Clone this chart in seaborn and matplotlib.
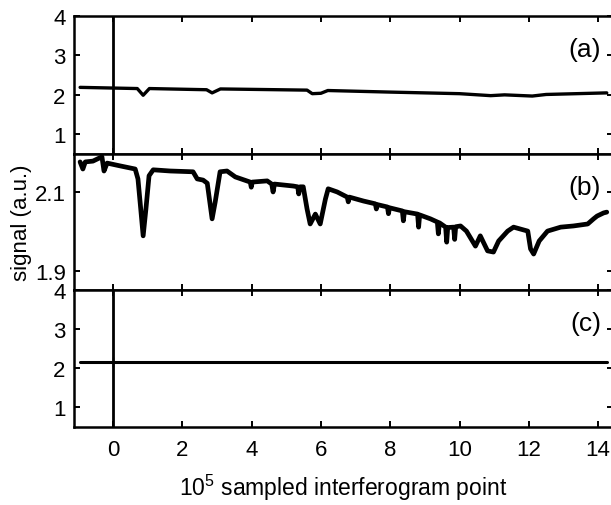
import matplotlib
matplotlib.use("Agg")
import matplotlib.pyplot as plt
import pandas as pd
import seaborn as sns

# panel (b): zoomed signal
sig_x = [-0.95, -0.87, -0.80, -0.58, -0.32, -0.26, -0.17, 0.20, 0.64, 0.72, 0.80, 0.87, 0.95, 1.04,
         1.16, 1.65, 2.31, 2.43, 2.60, 2.72, 2.86, 2.95, 3.09, 3.29, 3.53, 3.96, 3.99, 4.02, 4.45,
         4.58, 4.62, 4.66, 5.20, 5.33, 5.36, 5.40, 5.49, 5.60, 5.69, 5.84, 5.98, 6.13, 6.21, 6.47,
         6.76, 6.79, 6.82, 7.23, 7.57, 7.60, 7.63, 7.92, 7.95, 7.98, 8.35, 8.38, 8.41, 8.79, 8.82,
         8.85, 9.16, 9.36, 9.39, 9.42, 9.60, 9.63, 9.66, 9.83, 9.86, 9.89, 10.03, 10.20, 10.46,
         10.60, 10.81, 10.98, 11.13, 11.39, 11.56, 11.97, 12.05, 12.14, 12.30, 12.54, 12.92, 13.29,
         13.70, 13.87, 13.97, 14.16, 14.25]
sig_y = [2.176, 2.158, 2.176, 2.178, 2.189, 2.153, 2.173, 2.166, 2.158, 2.133, 2.057, 1.989, 2.057, 2.141,
         2.156, 2.153, 2.151, 2.133, 2.130, 2.122, 2.032, 2.075, 2.151, 2.153, 2.138, 2.125, 2.112, 2.125, 2.128,
         2.120, 2.100, 2.120, 2.115, 2.113, 2.095, 2.113, 2.113, 2.057, 2.019, 2.044, 2.019, 2.082, 2.108, 2.100,
         2.087, 2.075, 2.087, 2.077, 2.070, 2.057, 2.068, 2.062, 2.045, 2.060, 2.052, 2.027, 2.050, 2.044, 2.011,
         2.042, 2.032, 2.024, 1.994, 2.022, 2.011, 1.973, 2.010, 2.011, 1.980, 2.012, 2.014, 2.001, 1.963,
         1.989, 1.951, 1.948, 1.976, 2.001, 2.011, 2.001, 1.956, 1.943, 1.976, 2.001, 2.011, 2.014,
         2.019, 2.032, 2.039, 2.047, 2.049]

# panel (a): full-scale view of the same signal
a_x = [-0.95, 0.70, 0.87, 1.05, 2.70, 2.86, 3.10, 5.60, 5.75, 6.00, 6.20, 8.00, 10.0, 10.9, 11.3, 12.1, 12.5, 14.25]
a_y = [2.19, 2.16, 1.99, 2.16, 2.13, 2.05, 2.15, 2.12, 2.03, 2.04, 2.11, 2.07, 2.03, 1.98, 2.00, 1.97, 2.01, 2.05]

# panel (c): reference
c_x = [-0.95, 14.25]
c_y = [2.16, 2.16]

burst_pos = 0.0
xticks = [0, 2, 4, 6, 8, 10, 12, 14]
panel_labels = ["(a)", "(b)", "(c)"]

sns.set_style("ticks", rc={"axes.edgecolor": "black", "xtick.color": "black",
                           "ytick.color": "black", "text.color": "black",
                           "axes.labelcolor": "black"})
plt.rcParams['font.family'] = ['Liberation Sans', 'DejaVu Sans']
plt.rcParams['mathtext.default'] = 'regular'

W, H = 611, 506
fig = plt.figure(figsize=(W / 100, H / 100), dpi=100)


def make_axes(left, top, right, bottom):
    return fig.add_axes([left / W, 1 - bottom / H, (right - left) / W, (bottom - top) / H])


ax_a = make_axes(74, 17, 613, 155)
ax_b = make_axes(74, 155, 613, 291)
ax_c = make_axes(74, 291, 613, 428)

df_a = pd.DataFrame({"x": a_x, "y": a_y})
df_b = pd.DataFrame({"x": sig_x, "y": sig_y})
df_c = pd.DataFrame({"x": c_x, "y": c_y})

sns.lineplot(data=df_a, x="x", y="y", ax=ax_a, color="black", lw=2.4, estimator=None, sort=False)
sns.lineplot(data=df_b, x="x", y="y", ax=ax_b, color="black", lw=3.4, estimator=None, sort=False)
sns.lineplot(data=df_c, x="x", y="y", ax=ax_c, color="black", lw=2.2, estimator=None, sort=False)
ax_a.axvline(burst_pos, color="black", lw=2)
ax_c.axvline(burst_pos, color="black", lw=2)
ax_c.plot([burst_pos], [c_y[0]], marker="+", color="black", ms=7, mew=1)

for ax, lab in zip([ax_a, ax_b, ax_c], panel_labels):
    ax.set_xlim(-1.126, 14.43)
    ax.set_xticks(xticks)
    ax.tick_params(direction="in", top=True, right=True, length=4, width=1.4,
                   labelsize=16)
    ax.tick_params(axis="x", pad=9)
    ax.tick_params(axis="y", pad=6)
    for sp in ax.spines.values():
        sp.set_linewidth(1.8)
    ax.set_xlabel("")
    ax.set_ylabel("")
    ax.text(0.978, 0.76, lab, transform=ax.transAxes, ha="right", va="center", fontsize=19)

ax_a.set_ylim(0.5, 4)
ax_a.set_yticks([1, 2, 3, 4])
ax_c.set_ylim(0.5, 4)
ax_c.set_yticks([1, 2, 3, 4])
ax_b.set_ylim(1.852, 2.196)
ax_b.set_yticks([1.9, 2.1])
ax_a.tick_params(labelbottom=False)
ax_b.tick_params(labelbottom=False)

ax_c.set_xlabel("$10^5$ sampled interferogram point", fontsize=16.5, labelpad=8)
ax_b.set_ylabel("signal (a.u.)", fontsize=16)
ax_b.yaxis.set_label_coords(-0.078, 0.5)

fig.savefig("out.png", dpi=100)
